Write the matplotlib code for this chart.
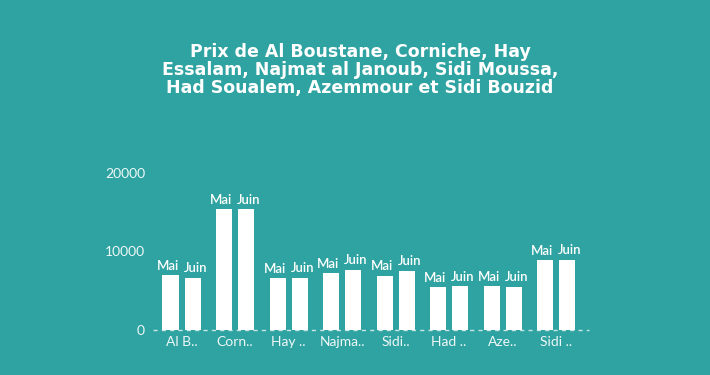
import matplotlib
matplotlib.use("Agg")
import matplotlib.pyplot as plt
import numpy as np

categories = ["Al B..", "Corn..", "Hay ..", "Najma..", "Sidi..", "Had ..", "Aze..", "Sidi .."]
series_names = ["Mai", "Juin"]
mai = [7000, 15400, 6600, 7250, 6900, 5450, 5600, 8870]
juin = [6650, 15400, 6650, 7650, 7550, 5550, 5500, 8950]
yticks = [0, 10000, 20000]
title = "Prix de Al Boustane, Corniche, Hay\nEssalam, Najmat al Janoub, Sidi Moussa,\nHad Soualem, Azemmour et Sidi Bouzid"

bg = "#2ea3a1"
fig = plt.figure(figsize=(7.1, 3.75), dpi=100, facecolor=bg)
ax = fig.add_axes([0.218, 0.12, 0.603, 0.419], facecolor=bg)

x = np.arange(len(categories))
w = 0.3
off = 0.206
b1 = ax.bar(x - off, mai, w, color="white", zorder=3)
b2 = ax.bar(x + off, juin, w, color="white", zorder=3)
for bars, name, dx in ((b1, series_names[0], -2.0), (b2, series_names[1], 2.0)):
    for r in bars:
        ax.annotate(name, (r.get_x() + r.get_width() / 2, r.get_height()),
                    xytext=(dx, 2.5), textcoords="offset points",
                    ha="center", va="bottom", color="white", fontsize=9.5,
                    fontweight="semibold", family="Lato", zorder=4)

ax.set_xlim(-0.5, len(categories) - 0.5)
ax.set_ylim(0, 20000)
ax.set_yticks(yticks)
ax.set_yticklabels([str(t) for t in yticks])
ax.set_xticks(x)
ax.set_xticklabels(categories)
for lab in ax.get_xticklabels() + ax.get_yticklabels():
    lab.set_family("Lato")
    lab.set_fontsize(10)
    lab.set_color("#eef7f7")
ax.tick_params(axis="both", length=0)
ax.tick_params(axis="y", pad=7)
ax.tick_params(axis="x", pad=4)
for s in ax.spines.values():
    s.set_visible(False)
ax.axhline(0, xmin=-0.005, xmax=1.015, color="#c9e6e5", lw=1, ls=(0, (3, 3)), zorder=2, clip_on=False)

fig.text(0.507, 0.885, title, ha="center", va="top", color="white",
         fontsize=12.5, fontweight="bold", family="DejaVu Sans", linespacing=0.98)

fig.savefig("out.png", dpi=100, facecolor=bg)
